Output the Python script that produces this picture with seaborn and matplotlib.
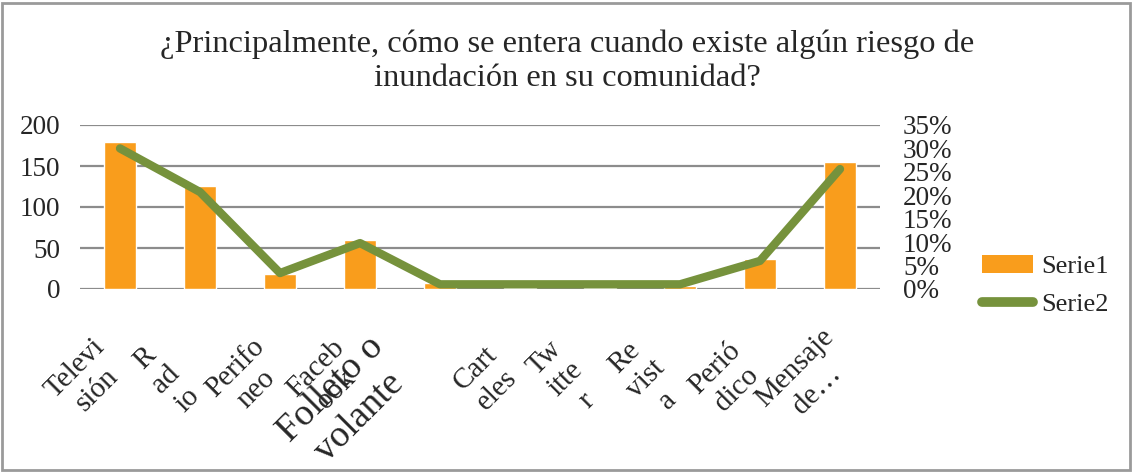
import numpy as np
import pandas as pd
import matplotlib
matplotlib.use("Agg")
import matplotlib.pyplot as plt
from matplotlib.patches import Patch, Rectangle
from matplotlib.lines import Line2D
from matplotlib.ticker import PercentFormatter
from matplotlib.transforms import ScaledTranslation
import seaborn as sns

# data
categories = ["Televi\nsión", "R\nad\nio", "Perifo\nneo", "Faceb\nook", "Folleto o\nvolante",
              "Cart\neles", "Tw\nitte\nr", "Re\nvist\na", "Perió\ndico", "Mensaje\nde…"]
serie1 = [179, 126, 18, 60, 7, 1, 1, 4, 36, 155]
serie2 = [0.300, 0.207, 0.034, 0.098, 0.010, 0.010, 0.010, 0.010, 0.060, 0.256]
title = "¿Principalmente, cómo se entera cuando existe algún riesgo de\ninundación en su comunidad?"

ORANGE = "#F99D1C"
GREEN = "#76923C"

df = pd.DataFrame({"medio": categories, "serie1": serie1, "serie2": serie2})
df["pos"] = np.arange(len(df))

sns.set_theme(style="white")
plt.rcParams["font.family"] = ["Liberation Serif", "DejaVu Serif"]

fig = plt.figure(figsize=(11.35, 4.72), dpi=100)
ax = fig.add_axes([80 / 1135, 183 / 472, 800 / 1135, 164 / 472])

sns.barplot(data=df, x="pos", y="serie1", color=ORANGE, width=0.41,
            saturation=1, ax=ax, zorder=2)
ax.set_ylim(0, 200)
ax.set_yticks([0, 50, 100, 150, 200])
ax.set_xlim(-0.5, len(df) - 0.5)
ax.grid(axis="y", color="#8c8c8c", linewidth=1.6, zorder=0)
ax.set_axisbelow(True)
for s in ax.spines.values():
    s.set_visible(False)
ax.set_xlabel("")
ax.set_ylabel("")
ax.tick_params(axis="y", length=0, pad=14, labelsize=19.5)

# rotated, wrapped category labels (Excel style)
ax.set_xticks(df["pos"])
ax.set_xticklabels(df["medio"], rotation=45, ha="center", va="center",
                   rotation_mode="anchor", fontsize=21, multialignment="center",
                   linespacing=1.2)
ax.tick_params(axis="x", length=0, pad=0)
for lbl in ax.get_xticklabels():
    dx, dy = -34, -90
    if lbl.get_text().startswith("Folleto"):
        lbl.set_fontsize(27)
        dx, dy = -95, -114
    lbl.set_transform(lbl.get_transform() + ScaledTranslation(dx / 100, dy / 100, fig.dpi_scale_trans))

ax2 = ax.twinx()
sns.lineplot(data=df, x="pos", y="serie2", color=GREEN, linewidth=6, ax=ax2,
             sort=False, zorder=3)
ax2.set_ylim(0, 0.35)
ax2.set_yticks(np.arange(0, 0.351, 0.05))
ax2.yaxis.set_major_formatter(PercentFormatter(1.0, decimals=0))
ax2.tick_params(axis="y", length=0, pad=16.5, labelsize=19.5)
ax2.set_ylabel("")
for s in ax2.spines.values():
    s.set_visible(False)

fig.suptitle(title, x=0.5, y=0.937, fontsize=23.4, linespacing=1.22)

handles = [Patch(facecolor=ORANGE, edgecolor="none"),
           Line2D([0], [0], color=GREEN, linewidth=7)]
fig.legend(handles, ["Serie1", "Serie2"], loc="upper left",
           bbox_to_anchor=(958 / 1135, 1 - 231 / 472), frameon=False,
           fontsize=19, handlelength=1.95, labelspacing=0.55, handletextpad=0.3)

fig.patches.append(Rectangle((0.002, 0.004), 0.994, 0.99, transform=fig.transFigure,
                             fill=False, edgecolor="#9a9a9a", linewidth=2))

fig.savefig("out.png", dpi=100)
